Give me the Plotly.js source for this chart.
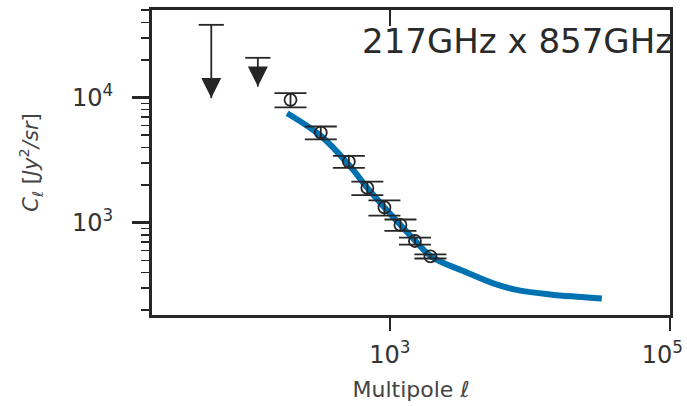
<!DOCTYPE html>
<html>
<head>
<meta charset="utf-8">
<script src="https://cdn.plot.ly/plotly-3.0.1.min.js"></script>
<style>html,body{margin:0;padding:0;background:#fff;}#chart{width:687px;height:406px;}</style>
</head>
<body>
<div id="chart"></div>
<script>
// Measured band powers (217GHz x 857GHz)
const ellBins = [195, 321, 509, 690, 914, 1189, 1509, 1946];
const clValues = [9590, 5250, 3080, 1895, 1325, 960, 714, 537];
const clErrors = [1250, 620, 340, 235, 185, 100, 46, 20];

// Upper limits at low multipoles
const ellUpper = [53, 114];
const clUpperTip = [9900, 12250];
const clUpperExtent = [28250, 8540];

// Best-fit model curve
const modelEll = [184.5, 321, 509, 690, 914, 1189, 1509, 1985, 3534, 5475, 8030, 13900, 21600, 32600];
const modelCl = [7500, 4940, 2900, 1897, 1324, 959, 721, 535, 400, 327, 290, 267, 256, 248];

const xTickVals = [1000, 100000];
const xTickText = ['10<sup>3</sup>', '10<sup>5</sup>&nbsp;&nbsp;'];
const yTickVals = [1000, 10000];
const yTickText = ['10<sup>3</sup>', '10<sup>4</sup>'];
const panelLabel = '217GHz x 857GHz';

const ink = '#262626';
const minorY = [];
[100, 1000, 10000].forEach(d => { for (let k = 2; k <= 9; k++) minorY.push(k * d); });
const clUpperTop = clUpperTip.map((v, i) => v + clUpperExtent[i]);

const traces = [
  {
    x: modelEll, y: modelCl, mode: 'lines', type: 'scatter',
    line: {color: '#0072B2', width: 6, shape: 'spline'},
    hoverinfo: 'skip', showlegend: false
  },
  {
    x: ellBins, y: clValues, mode: 'markers', type: 'scatter',
    marker: {symbol: 'circle-open', size: 12, color: ink, line: {width: 1.8, color: ink}},
    error_y: {type: 'data', array: clErrors, visible: true, color: ink, thickness: 1.8, width: 16},
    showlegend: false
  },
  {
    x: ellUpper, y: clUpperTip, mode: 'markers', type: 'scatter', xaxis: 'x2',
    marker: {symbol: 'arrow-down', size: 20, color: ink, line: {width: 0}},
    error_y: {type: 'data', symmetric: false, array: clUpperExtent, arrayminus: [0, 0], visible: true, color: ink, thickness: 1.8, width: 0},
    showlegend: false
  },
  {
    x: ellUpper, y: clUpperTop, mode: 'markers', type: 'scatter', xaxis: 'x2',
    marker: {symbol: 'line-ew', size: 18, color: ink, line: {width: 1.8, color: ink}},
    showlegend: false
  }
];

const xr = [Math.log10(20), 5];
const layout = {
  width: 687, height: 406,
  margin: {l: 152, r: 17, t: 10, b: 91},
  paper_bgcolor: '#fff', plot_bgcolor: '#fff',
  font: {family: 'DejaVu Sans', color: ink},
  xaxis: {
    type: 'log', range: xr, showgrid: false, zeroline: false,
    showline: true, linewidth: 3, linecolor: ink, mirror: true,
    ticks: 'outside', ticklen: 13, tickwidth: 2.2, tickcolor: ink,
    tickmode: 'array', tickvals: xTickVals, ticktext: xTickText,
    ticklabeloverflow: 'allow', ticklabelstandoff: 3,
    tickfont: {family: 'DejaVu Sans', size: 24, color: '#333'},
    title: {text: 'Multipole <i>ℓ</i>', font: {family: 'DejaVu Sans', size: 22, color: '#444'}, standoff: 14}
  },
  xaxis2: {
    type: 'log', range: xr, overlaying: 'x', side: 'top', anchor: 'y',
    showgrid: false, zeroline: false, showline: false,
    ticks: 'inside', ticklen: 16, tickwidth: 2.2, tickcolor: ink,
    tickmode: 'array', tickvals: [1000], showticklabels: false
  },
  yaxis: {
    type: 'log', range: [2.262, 4.70], showgrid: false, zeroline: false,
    showline: true, linewidth: 3, linecolor: ink, mirror: true,
    ticks: 'outside', ticklen: 17, tickwidth: 2.5, tickcolor: ink,
    tickmode: 'array', tickvals: yTickVals, ticktext: yTickText,
    ticklabelstandoff: 14,
    tickfont: {family: 'DejaVu Sans', size: 24, color: '#333'},
    minor: {tickmode: 'array', tickvals: minorY, ticks: 'outside', ticklen: 8, tickwidth: 1.5, tickcolor: ink, showgrid: false},
    title: {text: '<i>C</i><sub><i>ℓ</i></sub> [<i>Jy</i><sup>2</sup><i>/sr</i>]', font: {family: 'DejaVu Sans', size: 21, color: '#444'}, standoff: 28}
  },
  annotations: [{
    text: panelLabel, xref: 'paper', yref: 'paper', x: 0.4015, y: 0.899,
    xanchor: 'left', yanchor: 'middle', showarrow: false,
    font: {family: 'DejaVu Sans', size: 34, color: '#2a2a2a'}
  }]
};

Plotly.newPlot('chart', traces, layout, {displayModeBar: false, staticPlot: true});
</script>
</body>
</html>
